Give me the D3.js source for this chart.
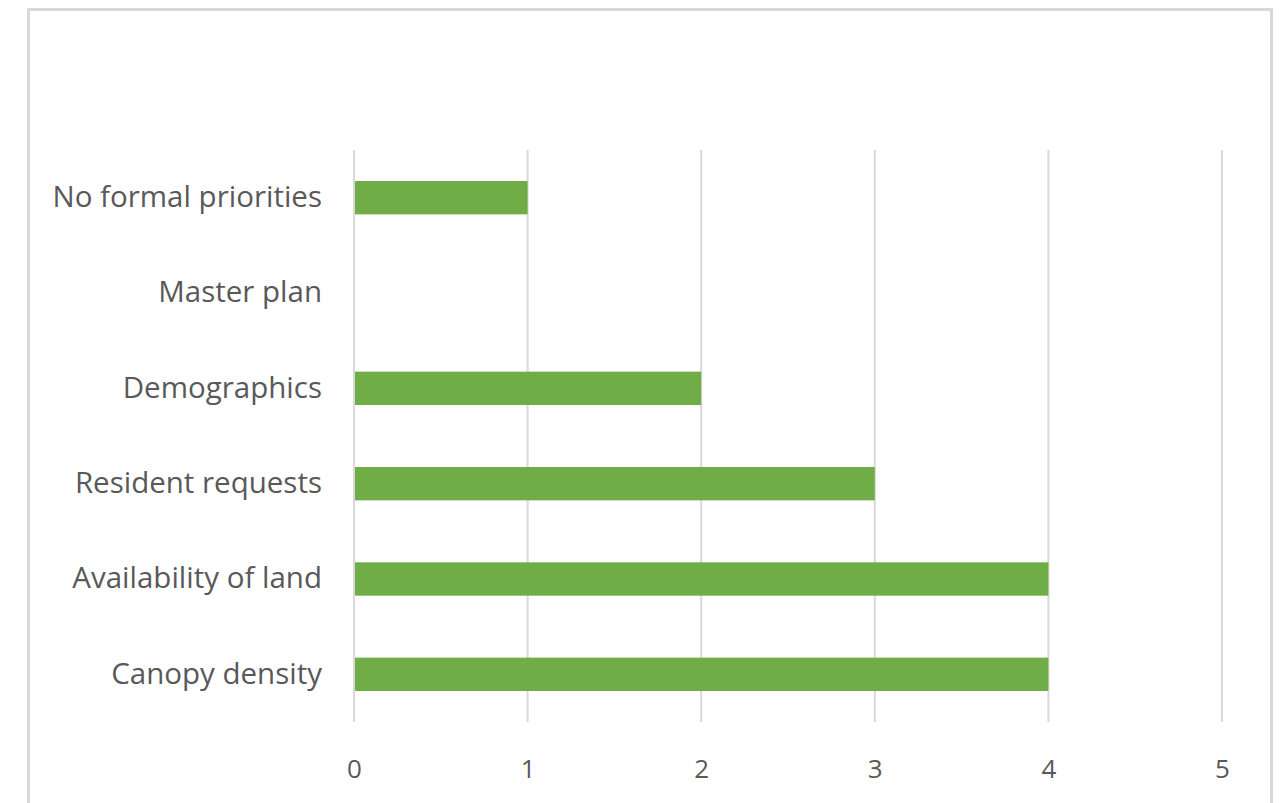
<!DOCTYPE html>
<html>
<head>
<meta charset="utf-8">
<script src="https://cdn.jsdelivr.net/npm/d3@7"></script>
<style>
  html, body { margin: 0; padding: 0; background: #fff; }
  svg { display: block; }
</style>
</head>
<body>
<script>
// Criteria used to prioritise planting, with number of responses
const categories = ["No formal priorities", "Master plan", "Demographics", "Resident requests", "Availability of land", "Canopy density"];
const counts = [1, 0, 2, 3, 4, 4];
const tickValues = [0, 1, 2, 3, 4, 5];

const W = 1281, H = 803;
const margin = { left: 354, right: 59, top: 150, bottom: 81 };

const svg = d3.select("body").append("svg")
  .attr("width", W).attr("height", H);

// chart frame
svg.append("rect")
  .attr("x", 28.5).attr("y", 9.5)
  .attr("width", 1243).attr("height", 820)
  .attr("fill", "#fff")
  .attr("stroke", "#d9d9d9").attr("stroke-width", 3);

const x = d3.scaleLinear().domain([0, 5]).range([margin.left, W - margin.right]);
const y = d3.scaleBand().domain(categories)
  .range([margin.top, H - margin.bottom])
  .paddingInner(0.65).paddingOuter(0.325);

// vertical gridlines
svg.append("g").selectAll("line").data(tickValues).join("line")
  .attr("x1", d => x(d)).attr("x2", d => x(d))
  .attr("y1", margin.top).attr("y2", H - margin.bottom)
  .attr("stroke", "#d9d9d9").attr("stroke-width", 2);

// bars
svg.append("g").selectAll("rect").data(categories).join("rect")
  .attr("x", x(0) + 1)
  .attr("y", d => y(d))
  .attr("width", (d, i) => Math.max(0, x(counts[i]) - x(0) - 1))
  .attr("height", y.bandwidth())
  .attr("fill", "#70ad47");

// x axis labels
const xAxis = d3.axisBottom(x).tickValues(tickValues).tickFormat(d3.format("d")).tickSize(0).tickPadding(0);
const gx = svg.append("g")
  .attr("transform", `translate(0,${H - margin.bottom + 47})`)
  .call(xAxis);
gx.select(".domain").remove();
gx.selectAll("text")
  .attr("dy", "0.35em")
  .attr("font-family", "'Open Sans', sans-serif")
  .attr("font-size", 26)
  .attr("fill", "#595959");

// category labels
const yAxis = d3.axisLeft(y).tickSize(0).tickPadding(0);
const gy = svg.append("g")
  .attr("transform", `translate(${margin.left - 32},0)`)
  .call(yAxis);
gy.select(".domain").remove();
gy.selectAll("text")
  .attr("font-family", "'Open Sans', sans-serif")
  .attr("font-size", 29.5)
  .attr("fill", "#595959");
</script>
</body>
</html>
